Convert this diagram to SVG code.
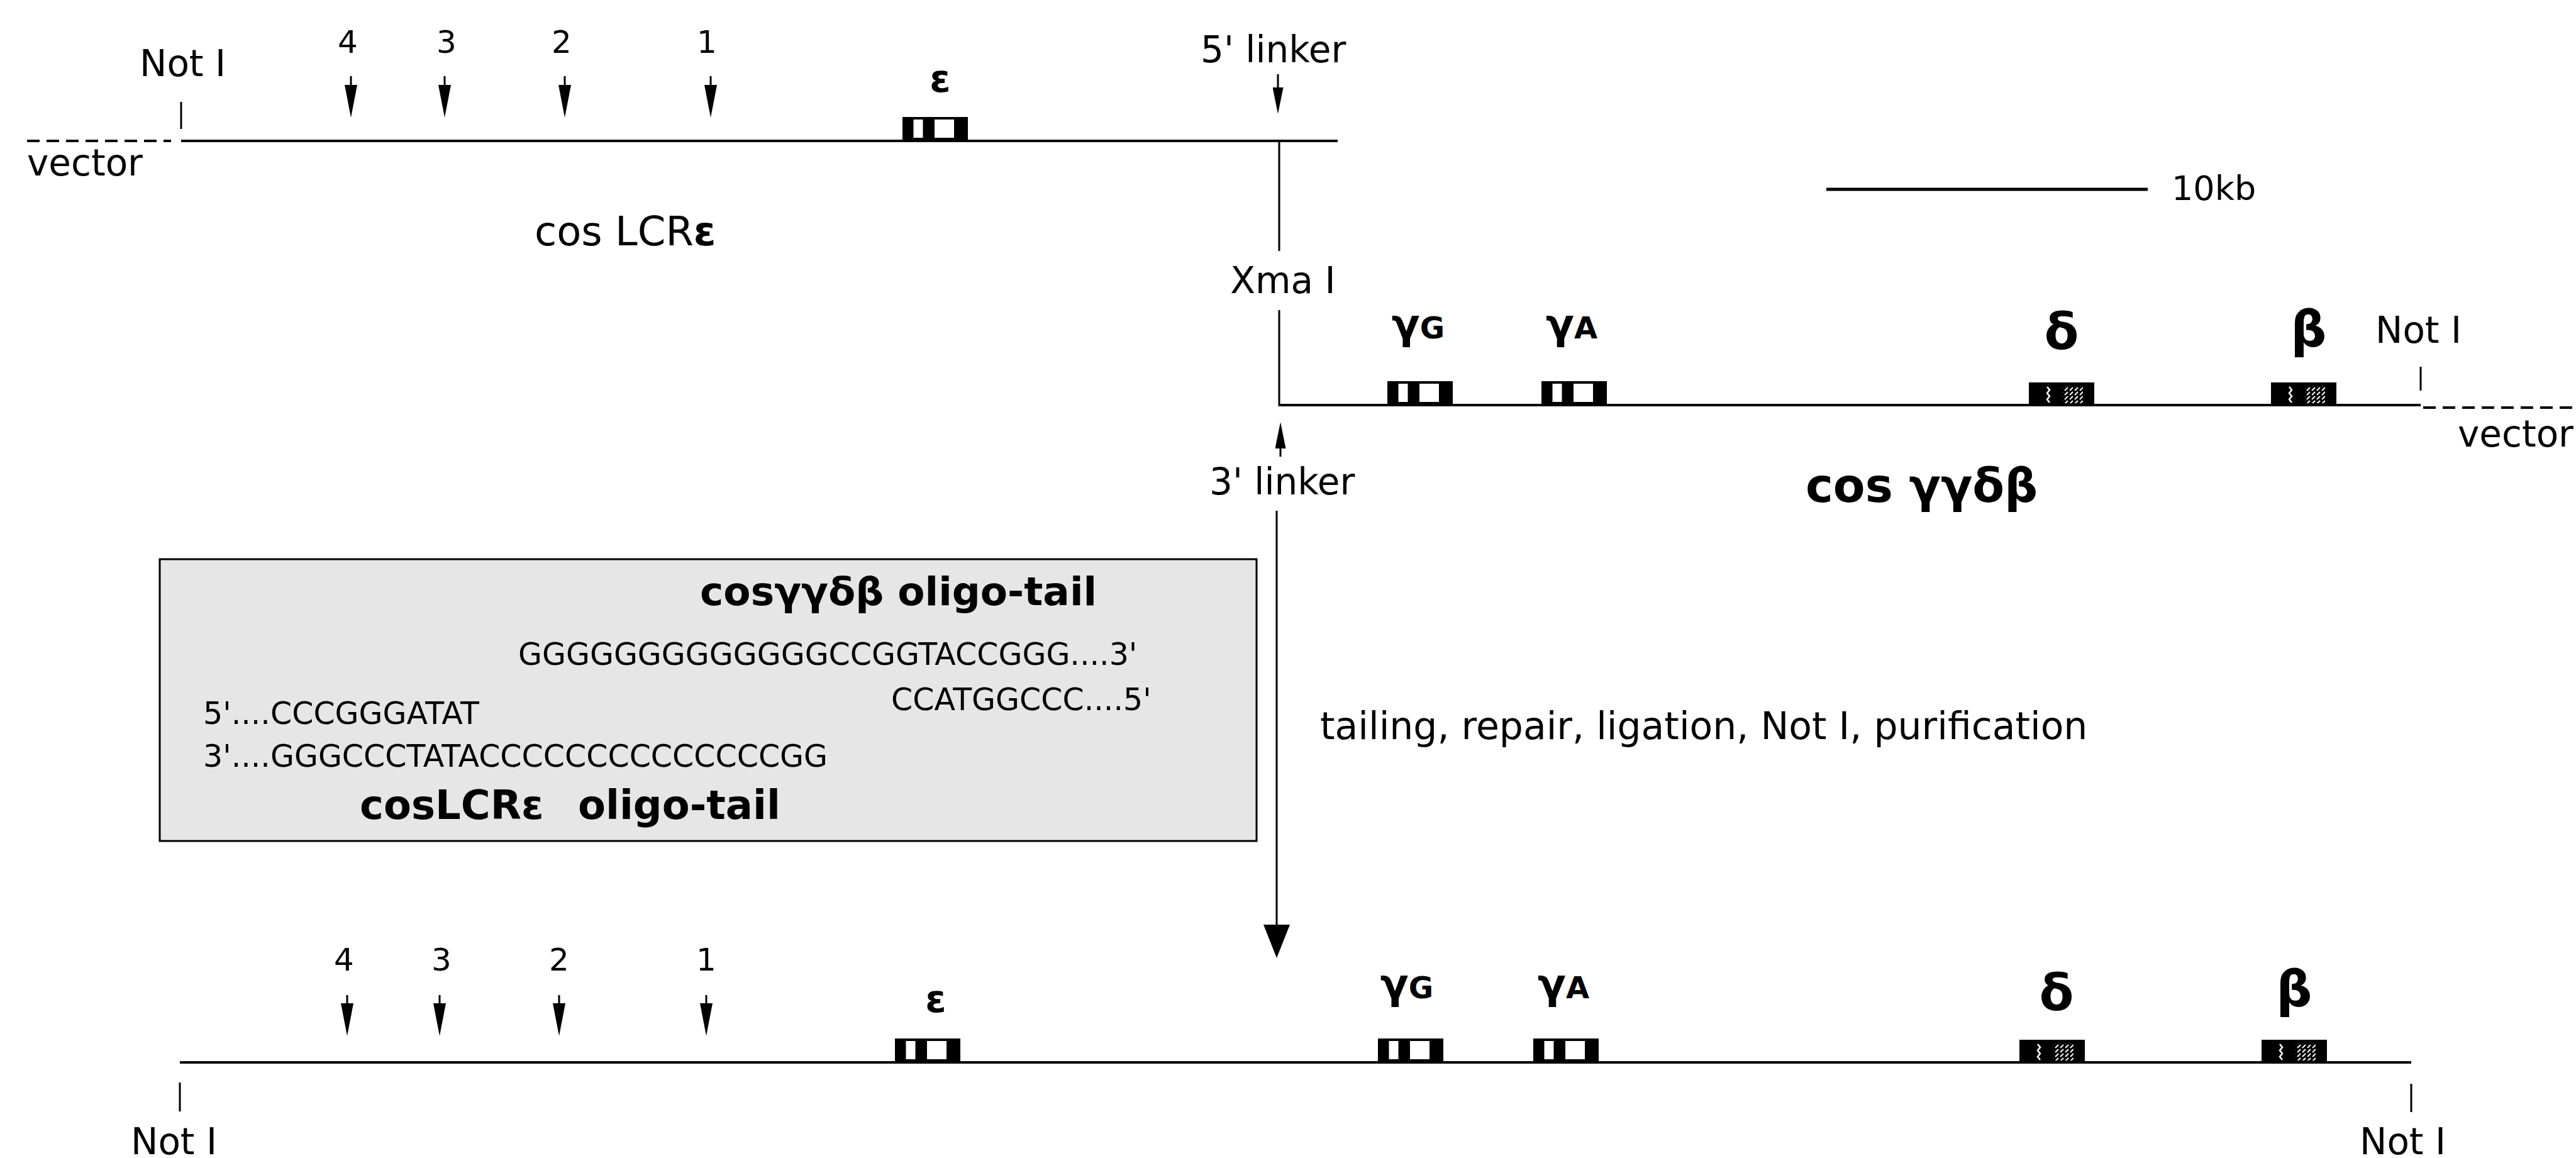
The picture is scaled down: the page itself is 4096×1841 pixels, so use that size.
<svg xmlns="http://www.w3.org/2000/svg" xmlns:xlink="http://www.w3.org/1999/xlink" width="4096" height="1841" viewBox="0 0 4096 1841">
<defs>
<style>
text{font-family:"DejaVu Sans","Liberation Sans",sans-serif;fill:#000}
.l{font-size:58px}
.n{font-size:50px;text-anchor:middle}
.g{font-weight:bold;text-anchor:middle}
.s{font-size:49px}
.b{font-weight:bold}
.ln{stroke:#000;stroke-width:4;fill:none}
.th{stroke:#000;stroke-width:3;fill:none}
.ds{stroke:#000;stroke-width:4;stroke-dasharray:20 11;fill:none}
</style>
<marker id="aS" markerUnits="userSpaceOnUse" viewBox="0 0 52 20" refX="0" refY="10" markerWidth="52" markerHeight="20" orient="auto"><path d="M0,0 L52,10 L0,20 Z"/></marker>
<marker id="aL" markerUnits="userSpaceOnUse" viewBox="0 0 42 17" refX="0" refY="8.5" markerWidth="42" markerHeight="17" orient="auto"><path d="M0,0 L42,8.5 L0,17 Z"/></marker>
<marker id="aB" markerUnits="userSpaceOnUse" viewBox="0 0 53 42" refX="0" refY="21" markerWidth="53" markerHeight="42" orient="auto"><path d="M0,0 L53,21 L0,42 Z"/></marker>
<pattern id="hatch" patternUnits="userSpaceOnUse" width="8" height="7"><path d="M1,6 L6,1" stroke="#fff" stroke-width="2"/></pattern>
<g id="exO"><rect width="104" height="38"/><rect x="17.5" y="4" width="15" height="29" fill="#fff"/><rect x="51" y="4" width="31" height="29" fill="#fff"/></g>
<g id="exH"><rect width="104" height="36"/><path d="M29,7 l4,5 l-4,5 l4,5 l-4,5 l4,5" stroke="#fff" stroke-width="2.5" fill="none"/><rect x="54" y="6" width="32" height="27" fill="url(#hatch)"/></g>
</defs>
<rect width="4096" height="1841" fill="#fff"/>

<g id="cosLCRe">
<text class="l" x="222" y="121">Not I</text>
<line class="th" x1="288" y1="162" x2="288" y2="205"/>
<line class="ds" x1="43" y1="224" x2="272" y2="224"/>
<text class="l" x="43" y="279">vector</text>
<line class="ln" x1="288" y1="224" x2="2127" y2="224"/>
<text class="n" x="553" y="84">4</text>
<text class="n" x="710" y="84">3</text>
<text class="n" x="893" y="84">2</text>
<text class="n" x="1124" y="84">1</text>
<use xlink:href="#exO" x="1435" y="186"/>
<text class="g" x="1495" y="146" font-size="60">ε</text>
<text x="850" y="390" font-size="64">cos LCR<tspan font-weight="bold">ε</tspan></text>
</g>

<g id="junction">
<text class="l" x="1909" y="99">5' linker</text>
<text class="l" x="2040" y="466" text-anchor="middle">Xma I</text>
<text class="l" x="1923" y="786">3' linker</text>
</g>

<g id="cosggdb">
<line class="ln" x1="2034" y1="644" x2="3849" y2="644"/>
<line class="th" x1="3849" y1="583" x2="3849" y2="621"/>
<line class="ds" x1="3853" y1="648" x2="4096" y2="648"/>
<text class="l" x="3777" y="545">Not I</text>
<text class="l" x="3908" y="710">vector</text>
<use xlink:href="#exO" x="2206" y="606"/>
<use xlink:href="#exO" x="2451" y="606"/>
<use xlink:href="#exH" x="3226" y="608"/>
<use xlink:href="#exH" x="3611" y="608"/>
<text class="g" x="2255" y="538" font-size="66">γ<tspan font-size="48">G</tspan></text>
<text class="g" x="2499" y="538" font-size="66">γ<tspan font-size="48">A</tspan></text>
<text class="g" x="3278" y="555" font-size="80">δ</text>
<text class="g" x="3671" y="551" font-size="80">β</text>
<text class="b" x="2871" y="798" font-size="74">cos γγδβ</text>
</g>

<g id="scalebar">
<line x1="2904" y1="301" x2="3415" y2="301" stroke="#000" stroke-width="5"/>
<text x="3453" y="318" font-size="54">10kb</text>
</g>

<g id="oligo-box">
<rect x="254" y="889" width="1744" height="448" fill="#e6e6e6" stroke="#000" stroke-width="3"/>
<text class="b" x="1113" y="962" font-size="63">cosγγδβ oligo-tail</text>
<text class="s" x="824" y="1057">GGGGGGGGGGGGGCCGGTACCGGG....3'</text>
<text class="s" x="1417" y="1129">CCATGGCCC....5'</text>
<text class="s" x="323" y="1151">5'....CCCGGGATAT</text>
<text class="s" x="323" y="1219">3'....GGGCCCTATACCCCCCCCCCCCCCGG</text>
<text class="b" x="572" y="1302" font-size="64">cosLCRε</text>
<text class="b" x="919" y="1302" font-size="64">oligo-tail</text>
</g>

<g id="process-label">
<text x="2099" y="1175" font-size="60">tailing, repair, ligation, Not I, purification</text>
</g>

<g id="final">
<line class="ln" x1="286" y1="1689" x2="3834" y2="1689"/>
<line class="th" x1="286" y1="1721" x2="286" y2="1767"/>
<line class="th" x1="3834" y1="1723" x2="3834" y2="1768"/>
<text class="l" x="208" y="1835">Not I</text>
<text class="l" x="3752" y="1835">Not I</text>
<text class="n" x="547" y="1543">4</text>
<text class="n" x="702" y="1543">3</text>
<text class="n" x="889" y="1543">2</text>
<text class="n" x="1123" y="1543">1</text>
<use xlink:href="#exO" x="1423" y="1651"/>
<text class="g" x="1488" y="1609" font-size="60">ε</text>
<use xlink:href="#exO" x="2191" y="1651"/>
<use xlink:href="#exO" x="2438" y="1651"/>
<use xlink:href="#exH" x="3211" y="1653"/>
<use xlink:href="#exH" x="3596" y="1653"/>
<text class="g" x="2237" y="1587" font-size="66">γ<tspan font-size="48">G</tspan></text>
<text class="g" x="2486" y="1587" font-size="66">γ<tspan font-size="48">A</tspan></text>
<text class="g" x="3270" y="1606" font-size="80">δ</text>
<text class="g" x="3648" y="1600" font-size="80">β</text>
</g>

<g id="connectors">
<line class="th" x1="2034" y1="224" x2="2034" y2="399"/>
<line class="th" x1="2034" y1="493" x2="2034" y2="646"/>
<line class="th" x1="2032" y1="118" x2="2032" y2="139" marker-end="url(#aL)"/>
<line class="th" x1="2036" y1="726" x2="2036" y2="713" marker-end="url(#aL)"/>
<line class="th" x1="2030" y1="812" x2="2030" y2="1470" marker-end="url(#aB)"/>
<line class="th" x1="558" y1="121" x2="558" y2="135" marker-end="url(#aS)"/>
<line class="th" x1="707" y1="121" x2="707" y2="135" marker-end="url(#aS)"/>
<line class="th" x1="898" y1="121" x2="898" y2="135" marker-end="url(#aS)"/>
<line class="th" x1="1130" y1="121" x2="1130" y2="135" marker-end="url(#aS)"/>
<line class="th" x1="552" y1="1582" x2="552" y2="1595" marker-end="url(#aS)"/>
<line class="th" x1="699" y1="1582" x2="699" y2="1595" marker-end="url(#aS)"/>
<line class="th" x1="889" y1="1582" x2="889" y2="1595" marker-end="url(#aS)"/>
<line class="th" x1="1123" y1="1582" x2="1123" y2="1595" marker-end="url(#aS)"/>
</g>
</svg>
